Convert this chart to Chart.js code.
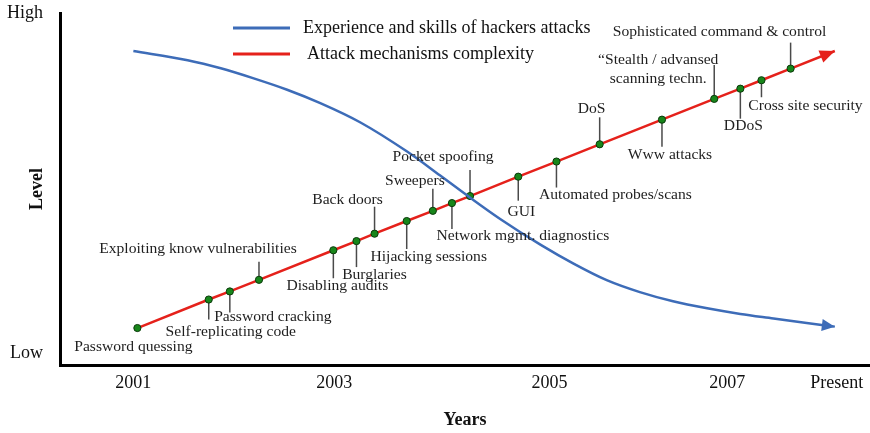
<!DOCTYPE html>
<html>
<head>
<meta charset="utf-8">
<script src="https://cdn.jsdelivr.net/npm/chart.js@4.4.1/dist/chart.umd.min.js"></script>
<style>
  html, body { margin: 0; padding: 0; background: #fff; }
  #wrap { width: 870px; height: 433px; }
</style>
</head>
<body>
<div id="wrap"><canvas id="lineChart"></canvas></div>
<script>
// x ticks (the original axis is not evenly spaced)
const yearTicks = [2001, 2003, 2005.14, 2006.91, 2008];
const yearLabels = ['2001', '2003', '2005', '2007', 'Present'];
const levelTicks = [3.2, 100];
const levelLabels = ['Low', 'High'];

// blue curve: experience and skills of hackers
const skillYears = [2001.00, 2001.54, 2001.87, 2002.19, 2002.53, 2002.86, 2003.26, 2003.72, 2004.05, 2004.32, 2004.65,
  2005.05, 2005.38, 2005.71, 2006.04, 2006.37, 2006.71, 2007.04, 2007.37, 2007.70, 2007.98];
const skillLevels = [89.2, 86.6, 84.3, 81.5, 78.2, 74.4, 68.9, 60.7, 53.9, 48.2, 41.5,
  34.2, 28.8, 24.1, 20.7, 18.1, 16.1, 14.5, 13.2, 11.9, 10.9];

// red line: attack mechanisms (last point is the arrow end)
const attackNames = ['Password quessing', 'Self-replicating code', 'Password cracking', 'Exploiting know vulnerabilities',
  'Disabling audits', 'Burglaries', 'Back doors', 'Hijacking sessions', 'Sweepers', 'Network mgmt. diagnostics',
  'Pocket spoofing', 'GUI', 'Automated probes/scans', 'DoS', 'Www attacks',
  ['\u201CStealth / advansed', 'scanning techn.'], 'DDoS', 'Cross site security', 'Sophisticated command & control', ''];
const attackYears = [2001.04, 2001.75, 2001.96, 2002.25, 2002.99, 2003.22, 2003.40, 2003.72, 2003.98, 2004.17,
  2004.35, 2004.83, 2005.21, 2005.64, 2006.26, 2006.78, 2007.04, 2007.25, 2007.54, 2007.98];
const attackLevels = [10.5, 18.6, 20.9, 24.2, 32.6, 35.2, 37.3, 40.9, 43.8, 46.0,
  48.0, 53.5, 57.8, 62.7, 69.7, 75.6, 78.5, 80.9, 84.2, 89.2];

// where each note sits relative to its dot (px), and how long its leader is
const noteLayout = [
  {dx: -4, dy: 19, lead: 0}, {dx: 22, dy: 32, lead: 20}, {dx: 43, dy: 25, lead: 21}, {dx: -61, dy: -31, lead: -18},
  {dx: 4, dy: 36, lead: 28}, {dx: 18, dy: 34, lead: 26}, {dx: -27, dy: -34, lead: -27}, {dx: 22, dy: 36, lead: 28},
  {dx: -18, dy: -30, lead: -22}, {dx: 71, dy: 33, lead: 26}, {dx: -27, dy: -39, lead: -26}, {dx: 3, dy: 35, lead: 24},
  {dx: 59, dy: 33, lead: 26}, {dx: -8, dy: -35, lead: -27}, {dx: 8, dy: 35, lead: 27}, {dx: -56, dy: -29, lead: -34},
  {dx: 3, dy: 37, lead: 30}, {dx: 44, dy: 26, lead: 17}, {dx: -71, dy: -37, lead: -26}
];

const SERIF = '"Liberation Serif", "Times New Roman", serif';

function drawArrow(ctx, meta, color, len, half){
  const pts = meta.data;
  const a = pts[pts.length - 2], b = pts[pts.length - 1];
  const ang = Math.atan2(b.y - a.y, b.x - a.x);
  ctx.save();
  ctx.translate(b.x, b.y);
  ctx.rotate(ang);
  ctx.fillStyle = color;
  ctx.beginPath();
  ctx.moveTo(0, 0);
  ctx.lineTo(-len, -half);
  ctx.lineTo(-len, half);
  ctx.closePath();
  ctx.fill();
  ctx.restore();
}

const notesPlugin = {
  id: 'notes',
  beforeDatasetsDraw(chart){
    const ctx = chart.ctx;
    const meta = chart.getDatasetMeta(1);
    ctx.save();
    ctx.strokeStyle = '#4a4a4a';
    ctx.lineWidth = 1.5;
    noteLayout.forEach((n, i) =>{
      if (!n.lead) return;
      const p = meta.data[i];
      ctx.beginPath();
      ctx.moveTo(p.x, p.y);
      ctx.lineTo(p.x, p.y + n.lead);
      ctx.stroke();
    });
    ctx.restore();
  },
  afterDatasetsDraw(chart){
    const ctx = chart.ctx;
    const blue = chart.data.datasets[0], red = chart.data.datasets[1];
    drawArrow(ctx, chart.getDatasetMeta(0), blue.borderColor, 13, 6);
    drawArrow(ctx, chart.getDatasetMeta(1), red.borderColor, 15, 6.5);

    const meta = chart.getDatasetMeta(1);
    ctx.save();
    ctx.fillStyle = '#1e1e1e';
    ctx.font = '15.6px ' + SERIF;
    ctx.textAlign = 'center';
    ctx.textBaseline = 'middle';
    noteLayout.forEach((n, i) =>{
      const p = meta.data[i];
      const lines = [].concat(attackNames[i]);
      const lh = 19;
      const y0 = p.y + n.dy - (lines.length - 1) * lh / 2;
      lines.forEach((t, k) => ctx.fillText(t, p.x + n.dx, y0 + k * lh));
    });

    // legend
    ctx.font = '18px ' + SERIF;
    ctx.textAlign = 'left';
    ctx.fillStyle = '#111';
    [[blue, 28, 303], [red, 54, 307]].forEach(([ds, y, tx]) =>{
      ctx.strokeStyle = ds.borderColor;
      ctx.lineWidth = 3;
      ctx.beginPath();
      ctx.moveTo(233, y);
      ctx.lineTo(290, y);
      ctx.stroke();
      ctx.fillText(ds.label, tx, y);
    });
    ctx.restore();
  }
};

function noPad(s){
  s.paddingTop = 0;
  s.paddingBottom = 0;
  s.paddingLeft = 0;
  s.paddingRight = 0;
}

document.addEventListener('DOMContentLoaded', ()=>{
  const ctx = document.getElementById('lineChart');

  const skillPoints = skillYears.map((x, i) => ({x: x, y: skillLevels[i]}));
  const attackPoints = attackYears.map((x, i) => ({x: x, y: attackLevels[i]}));
  const lastAttack = attackPoints.length - 1;

  const data = {
    datasets: [{
      label: 'Experience and skills of hackers attacks',
      data: skillPoints,
      borderColor: '#3d6cb8',
      borderWidth: 2.5,
      pointRadius: 0,
      cubicInterpolationMode: 'monotone',
      fill: false
    }, {
      label: 'Attack mechanisms complexity',
      data: attackPoints,
      borderColor: '#e5211b',
      borderWidth: 2.5,
      tension: 0,
      pointRadius: c => c.dataIndex === lastAttack ? 0 : 3.6,
      pointBackgroundColor: '#17861a',
      pointBorderColor: '#0b3a0b',
      pointBorderWidth: 1,
      fill: false
    }]
  };

  const config = {
    type: 'line',
    data: data,
    options: {
      responsive: true,
      maintainAspectRatio: false,
      animation: false,
      devicePixelRatio: 1,
      layout: { autoPadding: false, padding: { top: 13, left: 0, right: 0, bottom: 0 } },
      plugins: { legend: { display: false }, tooltip: { enabled: false } },
      scales: {
        x: {
          type: 'linear',
          min: 2000.27,
          max: 2008.33,
          grid: { display: false, drawTicks: false },
          border: { display: true, color: '#000', width: 3 },
          afterFit: s => { s.height = 68; noPad(s); },
          afterBuildTicks: s => { s.ticks = yearTicks.map(v => ({value: v})); },
          ticks: {
            autoSkip: false,
            maxRotation: 0,
            padding: 7,
            color: '#111',
            font: { family: SERIF, size: 18 },
            callback: v => yearLabels[yearTicks.indexOf(v)]
          },
          title: {
            display: true,
            text: 'Years',
            color: '#111',
            font: { family: SERIF, size: 18, weight: 'bold' },
            padding: { top: 0, bottom: 2 }
          }
        },
        y: {
          type: 'linear',
          min: 0,
          max: 100,
          grid: { display: false, drawTicks: false },
          border: { display: true, color: '#000', width: 3 },
          afterFit: s => { s.width = 60; noPad(s); },
          afterBuildTicks: s => { s.ticks = levelTicks.map(v => ({value: v})); },
          ticks: {
            padding: 17,
            color: '#111',
            font: { family: SERIF, size: 18 },
            callback: v => levelLabels[levelTicks.indexOf(v)]
          },
          title: {
            display: true,
            text: 'Level',
            color: '#111',
            font: { family: SERIF, size: 18, weight: 'bold' },
            padding: { top: 27, bottom: 0 }
          }
        }
      }
    },
    plugins: [notesPlugin]
  };
  new Chart(ctx, config);
});
</script>
</body>
</html>
